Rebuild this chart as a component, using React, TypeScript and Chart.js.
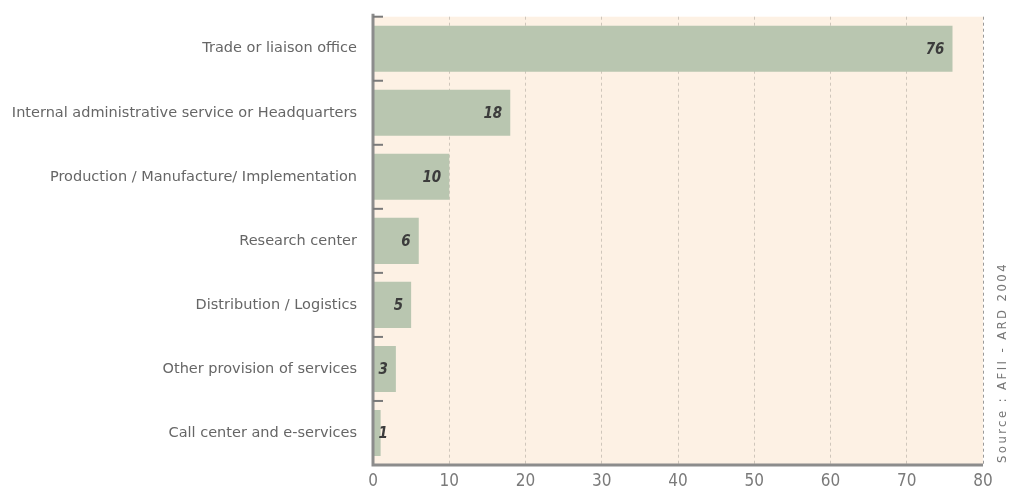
import React, { useEffect, useRef } from "react";
import { Chart, registerables } from "chart.js";

Chart.register(...registerables);

const categories = [
  "Trade or liaison office",
  "Internal administrative service or Headquarters",
  "Production / Manufacture/ Implementation",
  "Research center",
  "Distribution / Logistics",
  "Other provision of services",
  "Call center and e-services",
];
const values = [76, 18, 10, 6, 5, 3, 1];
const xTicks = [0, 10, 20, 30, 40, 50, 60, 70, 80];
const sourceText = "Source : AFII - ARD 2004";

const FONT_C = "'DejaVu Sans Condensed', 'DejaVu Sans', sans-serif";
const FONT = "'DejaVu Sans', sans-serif";

const decorPlugin = {
  id: "decor",
  beforeDraw(chart: any) {
    const { ctx, chartArea: a } = chart;
    ctx.save();
    ctx.fillStyle = "#fdf1e4";
    ctx.fillRect(a.left, a.top, a.right - a.left, a.bottom - a.top);
    ctx.restore();
  },
  afterDatasetsDraw(chart: any) {
    const { ctx, chartArea: a } = chart;
    const yScale = chart.scales.y;
    const xScale = chart.scales.x;
    ctx.save();
    ctx.strokeStyle = "#8c8c8c";
    ctx.lineWidth = 3;
    ctx.beginPath();
    ctx.moveTo(a.left, a.top - 3);
    ctx.lineTo(a.left, a.bottom);
    ctx.lineTo(a.right, a.bottom);
    ctx.stroke();
    ctx.lineWidth = 2;
    ctx.strokeStyle = "#7a7a7a";
    const n = categories.length;
    const band = yScale.getPixelForValue(1) - yScale.getPixelForValue(0);
    for (let i = 0; i < n; i++) {
      const y = yScale.getPixelForValue(i) - band / 2;
      ctx.beginPath();
      ctx.moveTo(a.left, y);
      ctx.lineTo(a.left + 10, y);
      ctx.stroke();
    }
    ctx.fillStyle = "#3c3c3c";
    ctx.font = `italic bold 15px ${FONT_C}`;
    ctx.textAlign = "right";
    ctx.textBaseline = "middle";
    const meta = chart.getDatasetMeta(0);
    meta.data.forEach((bar: any, i: number) => {
      const x0 = xScale.getPixelForValue(0);
      const xr = Math.max(bar.x - 8, x0 + 15);
      ctx.fillText(String(values[i]), xr, bar.y + 1);
    });
    ctx.fillStyle = "#777777";
    ctx.font = `13px ${FONT_C}`;
    (ctx as any).letterSpacing = "2.4px";
    ctx.translate(1003, a.bottom - 2);
    ctx.rotate(-Math.PI / 2);
    ctx.textAlign = "left";
    ctx.fillText(sourceText, 0, 0);
    (ctx as any).letterSpacing = "0px";
    ctx.restore();
  },
};

export default function App() {
  const ref = useRef<HTMLCanvasElement>(null);
  useEffect(() => {
    if (!ref.current) return;
    const chart = new Chart(ref.current, {
      type: "bar",
      data: {
        labels: categories,
        datasets: [
          {
            data: values,
            backgroundColor: "#b9c6b0",
            borderWidth: 0,
            categoryPercentage: 1,
            barPercentage: 0.72,
          },
        ],
      },
      options: {
        indexAxis: "y",
        animation: false,
        responsive: false,
        maintainAspectRatio: false,
        layout: { padding: { top: 13, right: 32, left: 0, bottom: 0 } },
        plugins: {
          legend: { display: false },
          tooltip: { enabled: false },
        },
        scales: {
          x: {
            min: 0,
            max: 80,
            afterBuildTicks: (s: any) => {
              s.ticks = xTicks.map((v) => ({ value: v }));
            },
            afterFit: (s: any) => {
              s.height = 28;
            },
            border: { display: false, dash: [3, 3] },
            grid: {
              color: (c: any) => (c.tick && c.tick.value === 80 ? "#9a9a9a" : "#cfc6bb"),
              lineWidth: (c: any) => (c.tick && c.tick.value === 0 ? 0 : 1),
              drawTicks: false,
            },
            ticks: {
              color: "#7a7a7a",
              font: { family: FONT_C, size: 17 },
              padding: 6,
            },
          },
          y: {
            afterFit: (s: any) => {
              s.width = 373;
            },
            border: { display: false },
            grid: { display: false },
            ticks: {
              color: "#666666",
              font: { family: FONT, size: 14.5 },
              padding: 8,
            },
          },
        },
      },
      plugins: [decorPlugin],
    });
    return () => chart.destroy();
  }, []);
  return (
    <div style={{ position: "absolute", left: 0, top: 0, width: 1015, height: 493, background: "#ffffff" }}>
      <canvas ref={ref} width={1015} height={493} />
    </div>
  );
}
